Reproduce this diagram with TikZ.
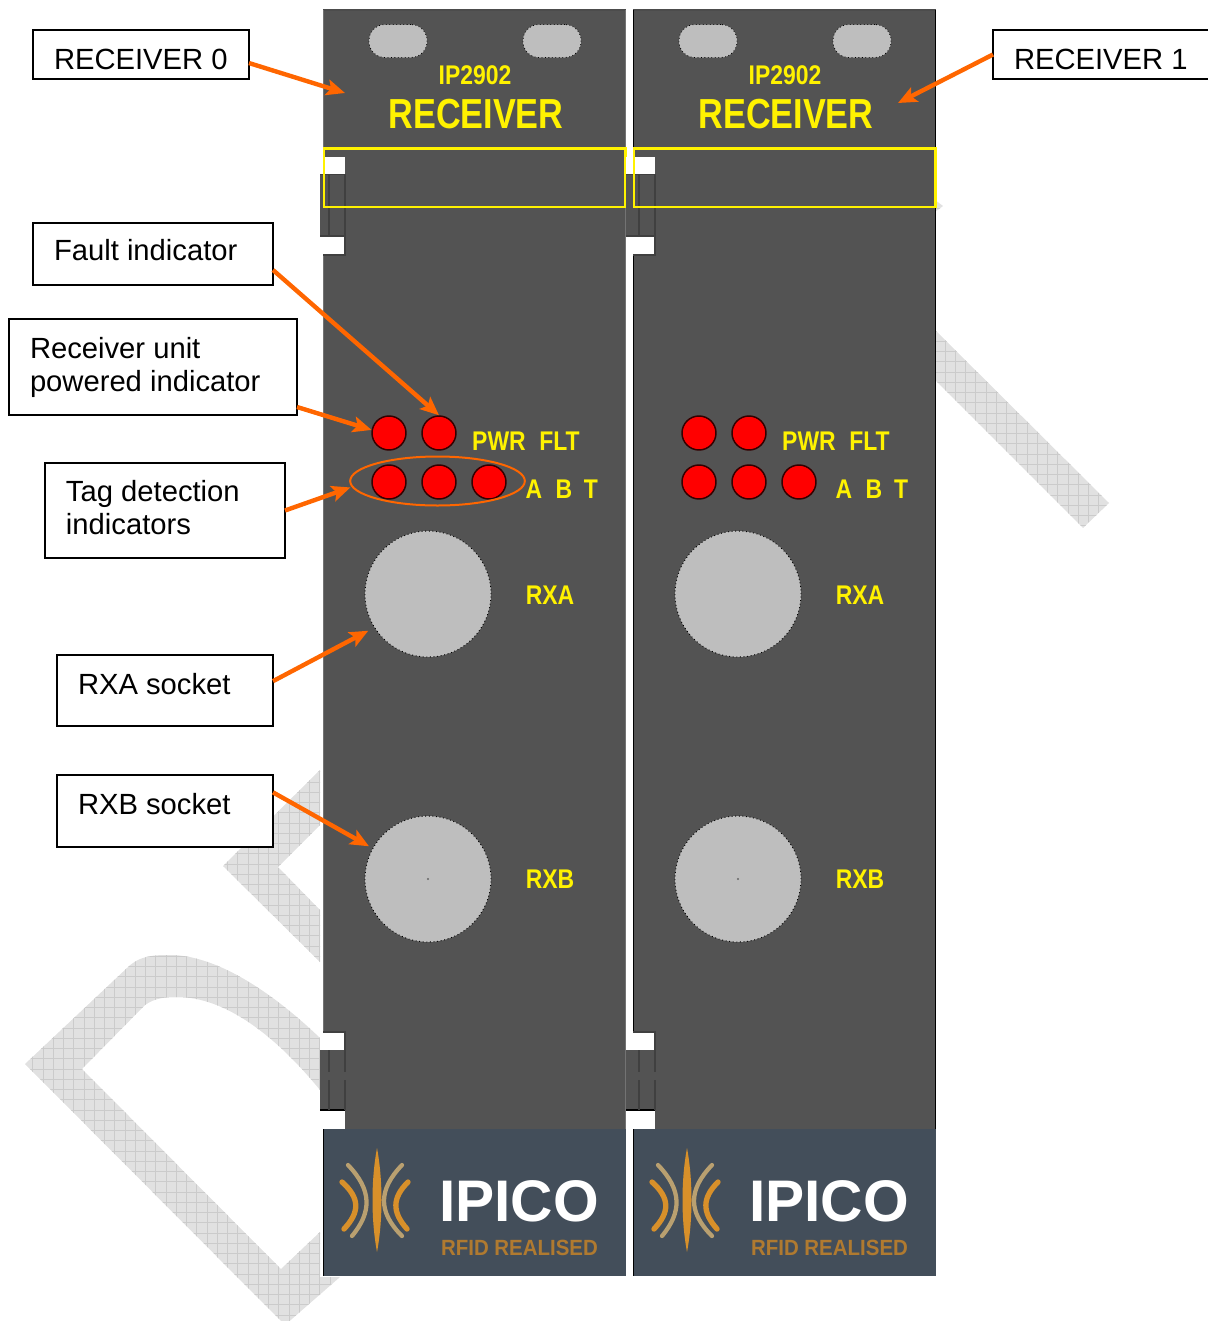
\documentclass[tikz,border=0pt]{standalone}
\usepackage{fontspec}
\usetikzlibrary{shapes.geometric,arrows.meta,calc}
\setmainfont{Liberation Sans}
\newfontfamily\condfont[FakeStretch=0.85]{Liberation Sans}
\newfontfamily\titlefont[FakeStretch=0.815]{Liberation Sans}
\newfontfamily\tagfont[FakeStretch=0.93]{Liberation Sans}
\newdimen\pxu \pxu=.75pt
\definecolor{panelgray}{HTML}{535353}
\definecolor{holegray}{HTML}{BEBEBE}
\definecolor{wmfill}{HTML}{E1E1E1}
\definecolor{wmline}{HTML}{CBCBCB}
\definecolor{callout}{HTML}{FF6600}
\definecolor{logobg}{HTML}{434E5A}
\definecolor{logoorange}{HTML}{D8902A}
\definecolor{logotan}{HTML}{B9A070}
\definecolor{logotext}{HTML}{B07A30}
\definecolor{ledred}{HTML}{FF0000}
\newcommand\lblbody[4]{\parbox[c][#2\pxu][t]{#1\pxu}{\leftskip=21\pxu\rightskip=0pt plus 1fil\baselineskip=33\pxu\vspace*{#3\pxu}\rule{0pt}{24\pxu}#4}}
\tikzset{
  lblbox/.style={draw=black,line width=1.2pt,rectangle,inner sep=0pt,outer sep=0pt,anchor=north west,fill=white,font=\fontsize{21.9}{24.75}\selectfont},
  pointer/.style={draw=callout,line width=3.3pt,-{Stealth[length=14pt,width=12pt,inset=3pt]}},
  paneltext/.style={text=yellow,font=\condfont\bfseries\fontsize{20.25}{22}\selectfont,inner sep=0pt},
  ledlamp/.style={circle,fill=ledred,draw=black!80!red,line width=1.1pt,minimum size=25.5pt,inner sep=0pt},
  sockethole/.style={circle,fill=holegray,draw=black,dotted,line width=.7pt,minimum size=94.5pt,inner sep=0pt},
  slothole/.style={rectangle,rounded corners=12pt,fill=holegray,draw=black,dotted,line width=.6pt,minimum width=43.5pt,minimum height=24.75pt,inner sep=0pt},
  railline/.style={draw=black!75,line width=1.2pt},
}
\begin{document}
\begin{tikzpicture}[x=.75pt,y=-.75pt]
\useasboundingbox (0,0) rectangle (1207,1321);
% watermark
\begin{scope}
\clip (25,1064) -- (127,968) .. controls (140,955) and (155,955) .. (170,955)
  .. controls (215,955) and (270,990) .. (320,1038) -- (320,1090)
  .. controls (275,1035) and (225,997) .. (177,997)
  .. controls (165,997) and (155,998) .. (145,1005) -- (82,1069) -- (281,1269)
  -- (320,1232) -- (320,1277) -- (340,1277) -- (285,1325) -- cycle
  (320,770) -- (223,866) -- (320,962) -- (320,910) -- (278,867) -- (320,825) -- cycle
  (935,330) -- (1109,503) -- (1083,528) -- (935,380) -- cycle
  (935,200) -- (943,206) -- (935,212) -- cycle;
\fill[wmfill] (0,0) rectangle (1207,1321);
\foreach \k in {0,...,118} \draw[wmline,line width=.7pt] ({\k*10.25+2},0) -- ({\k*10.25+2},1321);
\foreach \k in {0,...,130} \draw[wmline,line width=.7pt] (0,{\k*10.25+3}) -- (1207,{\k*10.25+3});
\end{scope}
% panels
\foreach \ox/\nl/\pr/\edge in {0/320/626/black!55,310/626/936/black}{
  \fill[panelgray] (323+\ox,10) rectangle (\pr,1130);
  \draw[black!70,line width=1pt] (323+\ox,10) -- (\pr,10);
  \draw[\edge,line width=1.2pt] (323.5+\ox,10) -- (323.5+\ox,1130);
  \draw[\edge,line width=1.2pt] (\pr-.5,10) -- (\pr-.5,1130);
  % top rail
  \fill[panelgray] (\nl,174) rectangle (345+\ox,236);
  \fill[white] (\nl,157) rectangle (345+\ox,174);
  \fill[white] (\nl,236) rectangle (345+\ox,255);
  \draw[railline] (\nl,174.5) -- (345+\ox,174.5);
  \draw[railline] (\nl,236) -- (345+\ox,236) (345+\ox,236) -- (345+\ox,255) -- (323+\ox,255);
  \draw[railline] (329+\ox,174) -- (329+\ox,236) (345+\ox,174) -- (345+\ox,236);
  % bottom rail
  \fill[panelgray] (\nl,1050) rectangle (345+\ox,1110);
  \fill[white] (\nl,1032) rectangle (345+\ox,1050);
  \fill[white] (\nl,1110) rectangle (345+\ox,1129);
  \draw[railline] (323+\ox,1032) -- (345+\ox,1032) -- (345+\ox,1050);
  \draw[black,line width=1pt] (\nl,1110) -- (345+\ox,1110);
  \draw[railline] (329+\ox,1050) -- (329+\ox,1072) (329+\ox,1080) -- (329+\ox,1110)
    (345+\ox,1050) -- (345+\ox,1072) (345+\ox,1080) -- (345+\ox,1110);
  % logo block
  \fill[logobg] (323+\ox,1129) rectangle (\pr,1276);
  \draw[black,line width=1.2pt] (323.5+\ox,1129) -- (323.5+\ox,1276);
  \fill[logoorange] (377+\ox,1148) .. controls (371+\ox,1180) and (371+\ox,1220) .. (377+\ox,1252)
     .. controls (383+\ox,1220) and (383+\ox,1180) .. (377+\ox,1148) -- cycle;
  \draw[logotan,line width=3.2pt,line cap=round] (348+\ox,1165) .. controls (372+\ox,1190) and (372+\ox,1212) .. (352+\ox,1236);
  \draw[logoorange,line width=4pt,line cap=round] (342+\ox,1182) .. controls (360+\ox,1198) and (360+\ox,1212) .. (344+\ox,1229);
  \draw[logotan,line width=3.2pt,line cap=round] (402+\ox,1165) .. controls (378+\ox,1190) and (378+\ox,1212) .. (402+\ox,1236);
  \draw[logoorange,line width=4pt,line cap=round] (408+\ox,1182) .. controls (392+\ox,1198) and (392+\ox,1212) .. (407+\ox,1229);
  \node[text=white,inner sep=0pt,font=\bfseries\fontsize{44}{46}\selectfont] (ipico\ox) at (519+\ox,1201) {IPICO};
  \node[text=logotext,inner sep=0pt,font=\tagfont\bfseries\fontsize{16.5}{18}\selectfont] (tag\ox) at (519.5+\ox,1248) {RFID REALISED};
  % slots and titles
  \node[slothole] (slotl\ox) at (398+\ox,41) {};
  \node[slothole] (slotr\ox) at (552+\ox,41) {};
  \node[paneltext] (model\ox) at (475+\ox,75) {IP2902};
  \node[text=yellow,inner sep=0pt,font=\titlefont\bfseries\fontsize{31.5}{33}\selectfont] (title\ox) at (476+\ox,114) {RECEIVER};
  \draw[yellow,line width=2.1pt] (324+\ox,148.5) rectangle (\pr-.5,207);
  % LEDs
  \node[ledlamp] (pwr\ox) at (389+\ox,433) {};
  \node[ledlamp] (flt\ox) at (439+\ox,433) {};
  \node[ledlamp] (ledA\ox) at (389+\ox,482) {};
  \node[ledlamp] (ledB\ox) at (439+\ox,482) {};
  \node[ledlamp] (ledT\ox) at (489+\ox,482) {};
  \node[paneltext] (tpwr\ox) at (499+\ox,441) {PWR};
  \node[paneltext] (tflt\ox) at (559.5+\ox,441) {FLT};
  \node[paneltext] (ta\ox) at (534+\ox,489) {A};
  \node[paneltext] (tb\ox) at (564+\ox,489) {B};
  \node[paneltext] (tt\ox) at (591+\ox,489) {T};
  % sockets
  \node[sockethole] (rxa\ox) at (428+\ox,594) {};
  \node[sockethole] (rxb\ox) at (428+\ox,879) {};
  \fill[black!60] (428+\ox,879) circle (1.2);
  \node[paneltext] (trxa\ox) at (550+\ox,595) {RXA};
  \node[paneltext] (trxb\ox) at (550+\ox,879) {RXB};
}
\node[ellipse,draw=callout,line width=1.5pt,minimum width=131pt,minimum height=36.75pt,inner sep=0pt] (tagring) at (437.5,481) {};
% labels
\node[lblbox] (r0box) at (33,30) {\lblbody{216}{49}{15}{RECEIVER 0}};
\node[lblbox] (r1box) at (993,30) {\lblbody{230}{49}{15}{RECEIVER 1}};
\node[lblbox] (fault) at (33,223) {\lblbody{240}{62}{13}{Fault indicator}};
\node[lblbox] (power) at (9,319) {\lblbody{288}{96}{15}{Receiver unit\\powered indicator}};
\node[lblbox] (tagbox) at (45,463) {\lblbody{240}{95}{14}{Tag detection\\indicators}};
\node[lblbox] (rxabox) at (57,655) {\lblbody{216}{71}{15}{RXA socket}};
\node[lblbox] (rxbbox) at (57,775) {\lblbody{216}{72}{15}{RXB socket}};
% callouts
\coordinate (r0tip) at (345,93);
\coordinate (r1tip) at (898,103);
\draw[pointer] ([yshift=-6.4pt]r0box.east) -- (r0tip);
\draw[pointer] (r1box.west) -- (r1tip);
\draw[pointer] ([yshift=-12pt]fault.east) -- (flt0.north);
\draw[pointer] ([yshift=-30pt]power.east) -- (pwr0.170);
\draw[pointer,shorten >=1pt] (tagbox.east) -- (tagring.184);
\draw[pointer,shorten >=5pt] ([yshift=7pt]rxabox.east) -- (rxa0.212);
\draw[pointer,shorten >=3pt] ([yshift=14pt]rxbbox.east) -- (rxb0.151);
\end{tikzpicture}
\end{document}
